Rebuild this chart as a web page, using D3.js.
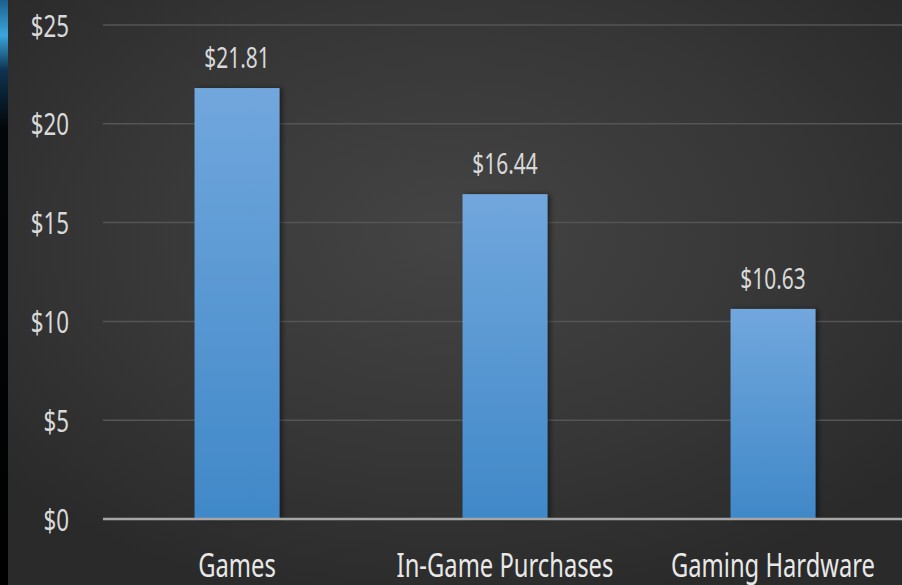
<!DOCTYPE html>
<html>
<head>
<meta charset="utf-8">
<script src="https://cdn.jsdelivr.net/npm/d3@7/dist/d3.min.js"></script>
<style>
  html, body { margin: 0; padding: 0; background: #2b2b2b; overflow: hidden; }
  svg { display: block; }
  text { font-family: "Noto Sans", "Open Sans", sans-serif; }
</style>
</head>
<body>
<svg id="chart" width="902" height="585"></svg>
<script>
// Gaming spend by category (billions of US dollars)
const categories = ["Games", "In-Game Purchases", "Gaming Hardware"];
const values = [21.81, 16.44, 10.63];
const yTicks = [0, 5, 10, 15, 20, 25];

const W = 902, H = 585;
const NARROW = 0.72; // horizontal squeeze for a condensed look

const svg = d3.select("#chart");
const defs = svg.append("defs");

// Background: dark slate with a soft lighter centre
const bg = defs.append("radialGradient").attr("id", "bgGrad")
  .attr("cx", "50%").attr("cy", "40%").attr("r", "65%");
bg.append("stop").attr("offset", "0%").attr("stop-color", "#444444");
bg.append("stop").attr("offset", "60%").attr("stop-color", "#363636");
bg.append("stop").attr("offset", "100%").attr("stop-color", "#2a2a2a");
svg.append("rect").attr("width", W).attr("height", H).attr("fill", "url(#bgGrad)");

// Dark strip on the left edge with a blue glow near the top
const glow = defs.append("linearGradient").attr("id", "edgeGlow")
  .attr("x1", 0).attr("y1", 0).attr("x2", 0).attr("y2", 1);
glow.append("stop").attr("offset", "0%").attr("stop-color", "#1d5f8c");
glow.append("stop").attr("offset", "6%").attr("stop-color", "#3aa6dd");
glow.append("stop").attr("offset", "12%").attr("stop-color", "#0e3350");
glow.append("stop").attr("offset", "22%").attr("stop-color", "#030608");
glow.append("stop").attr("offset", "100%").attr("stop-color", "#000000");
svg.append("rect").attr("x", 0).attr("y", 0).attr("width", 8).attr("height", H)
  .attr("fill", "url(#edgeGlow)");

// Bar fill: lighter blue at the top, deeper at the base
const barGrad = defs.append("linearGradient").attr("id", "barGrad")
  .attr("x1", 0).attr("y1", 0).attr("x2", 0).attr("y2", 1);
barGrad.append("stop").attr("offset", "0%").attr("stop-color", "#71a7dd");
barGrad.append("stop").attr("offset", "100%").attr("stop-color", "#4088c8");

const shadow = defs.append("filter").attr("id", "barShadow")
  .attr("x", "-20%").attr("y", "-10%").attr("width", "150%").attr("height", "120%");
shadow.append("feDropShadow").attr("dx", 3).attr("dy", 0).attr("stdDeviation", 2.5)
  .attr("flood-color", "#000").attr("flood-opacity", 0.45);

const plotLeft = 103, plotRight = 907;
const x = d3.scaleBand().domain(categories).range([plotLeft, plotRight])
  .paddingInner(0.683).paddingOuter(0.3415);
const y = d3.scaleLinear().domain([0, 25]).range([519, 25]);

// Gridlines
svg.append("g").selectAll("line").data(yTicks.filter(t => t > 0)).join("line")
  .attr("x1", plotLeft).attr("x2", W)
  .attr("y1", d => y(d)).attr("y2", d => y(d))
  .attr("stroke", "#555555").attr("stroke-width", 1.5);

// Y axis labels
const yAxis = d3.axisLeft(y).tickValues(yTicks).tickFormat(d => "$" + d).tickSize(0).tickPadding(0);
const gy = svg.append("g").attr("transform", "translate(69,0)").call(yAxis);
gy.select(".domain").remove();
gy.selectAll("text")
  .attr("fill", "#d9d9d9").attr("font-size", 31)
  .attr("font-family", "'Noto Sans', sans-serif")
  .attr("x", 0).attr("dy", "0.36em")
  .attr("transform", `scale(${NARROW},1)`);

// Bars
svg.append("g").selectAll("rect").data(values).join("rect")
  .attr("x", (d, i) => x(categories[i]))
  .attr("y", d => y(d))
  .attr("width", x.bandwidth())
  .attr("height", d => y(0) - y(d))
  .attr("fill", "url(#barGrad)")
  .attr("filter", "url(#barShadow)");

// Baseline
svg.append("line").attr("x1", plotLeft).attr("x2", W)
  .attr("y1", y(0)).attr("y2", y(0))
  .attr("stroke", "#a6a6a6").attr("stroke-width", 2.5);

// Value labels
svg.append("g").selectAll("text").data(values).join("text")
  .attr("transform", (d, i) =>
    `translate(${x(categories[i]) + x.bandwidth() / 2},${y(d) - 20}) scale(${NARROW},1)`)
  .attr("text-anchor", "middle")
  .attr("fill", "#d9d9d9").attr("font-size", 29)
  .text(d => "$" + d.toFixed(2));

// Category labels
const xAxis = d3.axisBottom(x).tickSize(0).tickPadding(0);
const gx = svg.append("g").attr("transform", "translate(0,577)").call(xAxis);
gx.select(".domain").remove();
gx.selectAll("text")
  .attr("fill", "#e8e8e8").attr("font-size", 33)
  .attr("font-family", "'Noto Sans', sans-serif")
  .attr("y", 0).attr("dy", 0)
  .attr("transform", `scale(${NARROW},1)`);
</script>
</body>
</html>
